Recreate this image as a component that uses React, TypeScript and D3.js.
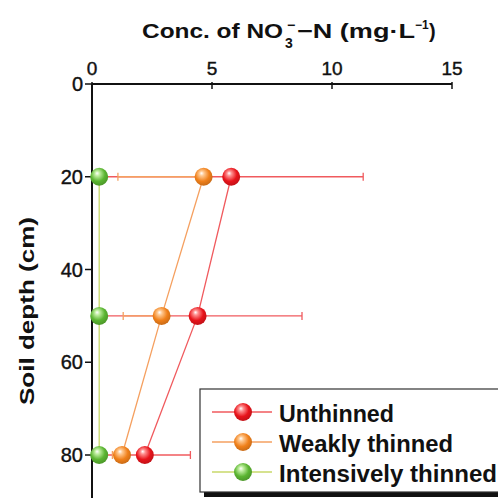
import React from "react";
import * as d3 from "d3";

const depths = [20, 50, 80];
const seriesNames = ["Unthinned", "Weakly thinned", "Intensively thinned"];
const unthinned = [5.8, 4.4, 2.2];
const unthinnedErrPlus = [5.5, 4.35, 1.9];
const unthinnedErrMinus = [5.5, 4.35, 1.9];
const weakly = [4.65, 2.9, 1.25];
const weaklyErrPlus = [0, 0, 0];
const weaklyErrMinus = [3.57, 1.6, 0.4];
const intensive = [0.3, 0.3, 0.3];
const intensiveErrPlus = [0.15, 0.15, 0.15];
const intensiveErrMinus = [0, 0, 0];
const xTicks = [0, 5, 10, 15];
const yTicks = [0, 20, 40, 60, 80];
const colors = ["#e8141b", "#f0801a", "#5bb531"];
const lightColors = ["#ff9090", "#ffc890", "#c0eea0"];
const lineColors = ["#f05a5e", "#f5a060", "#c8d86a"];

const W = 498, H = 498;
const x = d3.scaleLinear().domain([0, 15]).range([92, 452]);
const y = d3.scaleLinear().domain([0, 80]).range([84, 455]);

const font = "'Liberation Sans', Arial, sans-serif";

export default function App() {
  const series = [
    { vals: unthinned, plus: unthinnedErrPlus, minus: unthinnedErrMinus },
    { vals: weakly, plus: weaklyErrPlus, minus: weaklyErrMinus },
    { vals: intensive, plus: intensiveErrPlus, minus: intensiveErrMinus },
  ];
  const line = d3.line<number>().x((v) => x(v)).y((_, i) => y(depths[i]));
  const r = 9;
  const errOrder = [0, 1, 2];
  const order = [2, 1, 0];
  const legendTextLen = [115, 174, 218];
  return (
    <svg width={W} height={H} style={{ position: "absolute", left: 0, top: 0, background: "#fff" }}>
      <defs>
        {colors.map((c, i) => (
          <radialGradient key={i} id={`g${i}`} cx="0.45" cy="0.4" r="0.6" fx="0.38" fy="0.3">
            <stop offset="0" stopColor="#ffffff" />
            <stop offset="0.22" stopColor={lightColors[i]} />
            <stop offset="0.65" stopColor={c} />
            <stop offset="1" stopColor={d3.color(c)!.darker(0.5).toString()} />
          </radialGradient>
        ))}
      </defs>
      {/* title */}
      <g fontFamily={font} fontWeight="bold" fill="#111">
        <text x={142} y={38} fontSize={20} textLength={141} lengthAdjust="spacingAndGlyphs">Conc. of NO</text>
        <text x={285} y={48} fontSize={14}>3</text>
        <text x={287} y={30} fontSize={14}>−</text>
        <text x={297} y={38} fontSize={20} textLength={118} lengthAdjust="spacingAndGlyphs">−N (mg·L</text>
        <text x={415} y={29} fontSize={12}>−1</text>
        <text x={429} y={38} fontSize={20}>)</text>
      </g>
      {/* x axis */}
      <line x1={x(0)} x2={x(15)} y1={y(0)} y2={y(0)} stroke="#111" strokeWidth={2} />
      {xTicks.map((t) => (
        <g key={t}>
          <line x1={x(t)} x2={x(t)} y1={y(0) - 2} y2={y(0) + 5} stroke="#111" strokeWidth={1.5} />
          <text x={x(t)} y={75} textAnchor="middle" fontFamily={font} fontSize={19} fill="#111" stroke="#111" strokeWidth={0.4}>{t}</text>
        </g>
      ))}
      {/* y axis */}
      <line x1={x(0)} x2={x(0)} y1={y(0)} y2={H} stroke="#111" strokeWidth={2} />
      {yTicks.map((t) => (
        <g key={t}>
          <line x1={x(0) - 7} x2={x(0)} y1={y(t)} y2={y(t)} stroke="#111" strokeWidth={1.5} />
          <text x={83} y={y(t)} dy="0.36em" textAnchor="end" fontFamily={font} fontSize={20} fill="#111" stroke="#111" strokeWidth={0.4}>{t}</text>
        </g>
      ))}
      <text transform={`translate(34,${311}) rotate(-90)`} textAnchor="middle" fontFamily={font} fontSize={20} fontWeight="bold" fill="#111" textLength={188} lengthAdjust="spacingAndGlyphs">
        Soil depth (cm)
      </text>
      {/* error bars */}
      {errOrder.map((si) =>
        series[si].vals.map((v, i) => {
          const p = series[si].plus[i];
          const m = series[si].minus[i];
          const yy = y(depths[i]);
          return (
            <g key={`e${si}-${i}`} stroke={lineColors[si]} strokeWidth={1.3}>
              <line x1={x(v - m)} x2={x(v + p)} y1={yy} y2={yy} />
              {p > 0 && <line x1={x(v + p)} x2={x(v + p)} y1={yy - 4} y2={yy + 4} />}
              {m > 0 && <line x1={x(v - m)} x2={x(v - m)} y1={yy - 4} y2={yy + 4} />}
            </g>
          );
        })
      )}
      {/* lines */}
      {order.map((si) => (
        <path key={`l${si}`} d={line(series[si].vals)!} fill="none" stroke={lineColors[si]} strokeWidth={1.3} />
      ))}
      {/* points */}
      {order.map((si) =>
        series[si].vals.map((v, i) => (
          <circle key={`p${si}-${i}`} cx={x(v)} cy={y(depths[i])} r={r} fill={`url(#g${si})`} />
        ))
      )}
      {/* legend */}
      <rect x={204} y={395} width={300} height={102} fill="#111" />
      <rect x={200} y={389} width={300} height={103} fill="#fff" stroke="#333" strokeWidth={1.2} />
      {seriesNames.map((n, i) => {
        const ly = 412 + i * 30;
        return (
          <g key={n}>
            <line x1={212} x2={272} y1={ly} y2={ly} stroke={lineColors[i]} strokeWidth={1.3} />
            <circle cx={243} cy={ly} r={r} fill={`url(#g${i})`} />
            <text x={279} y={ly + 10} fontFamily={font} fontSize={23} fontWeight="bold" fill="#111" textLength={legendTextLen[i]} lengthAdjust="spacingAndGlyphs">{n}</text>
          </g>
        );
      })}
    </svg>
  );
}
